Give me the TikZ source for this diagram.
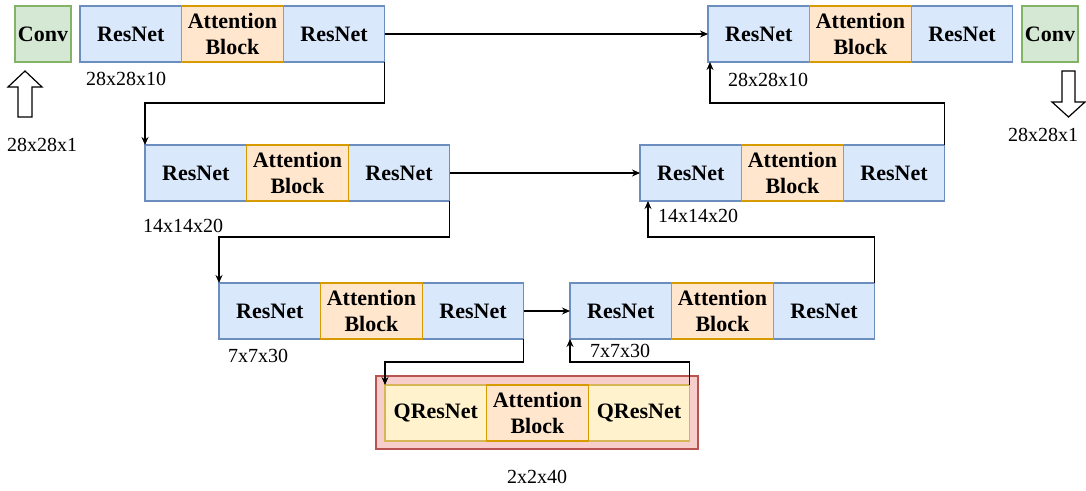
\documentclass[tikz,border=0pt]{standalone}
\usepackage{fontspec}
\setmainfont{Liberation Serif}
\usetikzlibrary{positioning,arrows.meta}
\definecolor{resfill}{HTML}{DAE8FC}
\definecolor{resline}{HTML}{6C8EBF}
\definecolor{attfill}{HTML}{FFE6CC}
\definecolor{attline}{HTML}{D79B00}
\definecolor{convfill}{HTML}{D5E8D4}
\definecolor{convline}{HTML}{82B366}
\definecolor{qfill}{HTML}{FFF2CC}
\definecolor{qline}{HTML}{D6B656}
\definecolor{corefill}{HTML}{F8CECC}
\definecolor{coreline}{HTML}{B85450}
\tikzset{
	cell/.style={rectangle, minimum width=50.8pt, minimum height=28pt, inner sep=0pt, outer sep=0pt,
		line width=0.6pt, font=\fontsize{11}{13}\selectfont\bfseries, align=center},
	res/.style={cell, fill=resfill, draw=resline},
	att/.style={cell, fill=attfill, draw=attline},
	qres/.style={cell, fill=qfill, draw=qline},
	conv/.style={cell, minimum width=28pt, fill=convfill, draw=convline},
	corebox/.style={rectangle, minimum width=161pt, minimum height=36.5pt, inner sep=0pt,
		fill=corefill, draw=coreline, line width=0.6pt},
	dim/.style={font=\fontsize{10}{12}\selectfont, inner sep=1pt},
	link/.style={-{Stealth[length=4pt,width=3.5pt]}, line width=0.6pt},
	hollow/.style={draw=black, fill=white, line width=0.6pt}
}

\begin{document}
\begin{tikzpicture}[x=0.5pt,y=-0.5pt]
	\useasboundingbox (0,0) rectangle (1086,491);
% input side
	\node[conv, anchor=north west] (convin) at (15,6) {Conv};
	\draw[hollow] (25,71) -- (42,87) -- (32,87) -- (32,117) -- (18,117) -- (18,87) -- (8,87) -- cycle;
		\node[dim] (dimin) at (42,145) {28x28x1};
% encoder
	\node[res, anchor=north west] (enc1a) at (80,6) {ResNet};
	\node[res, right=50.8pt of enc1a] (enc1c) {ResNet};
	\node[att, right=0pt of enc1a] (enc1b) {Attention\\Block};
		\node[dim] (dimenc1) at (126,79) {28x28x10};
	\node[res, anchor=north west] (enc2a) at (145,145) {ResNet};
	\node[res, right=50.8pt of enc2a] (enc2c) {ResNet};
	\node[att, right=0pt of enc2a] (enc2b) {Attention\\Block};
		\node[dim] (dimenc2) at (183,226) {14x14x20};
	\node[res, anchor=north west] (enc3a) at (219,283) {ResNet};
	\node[res, right=50.8pt of enc3a] (enc3c) {ResNet};
	\node[att, right=0pt of enc3a] (enc3b) {Attention\\Block};
		\node[dim] (dimenc3) at (258,356) {7x7x30};
% bottleneck
	\node[corebox] (core) at (537,412.5) {};
	\node[qres, anchor=north west] (mida) at (385,385) {QResNet};
	\node[qres, right=50.8pt of mida] (midc) {QResNet};
	\node[att, right=0pt of mida] (midb) {Attention\\Block};
		\node[dim] (dimmid) at (537,477) {2x2x40};
% decoder
	\node[res, anchor=north west] (dec3a) at (570,283) {ResNet};
	\node[res, right=50.8pt of dec3a] (dec3c) {ResNet};
	\node[att, right=0pt of dec3a] (dec3b) {Attention\\Block};
		\node[dim] (dimdec3) at (620,351) {7x7x30};
	\node[res, anchor=north west] (dec2a) at (640,145) {ResNet};
	\node[res, right=50.8pt of dec2a] (dec2c) {ResNet};
	\node[att, right=0pt of dec2a] (dec2b) {Attention\\Block};
		\node[dim] (dimdec2) at (698,216) {14x14x20};
	\node[res, anchor=north west] (dec1a) at (708,6) {ResNet};
	\node[res, right=50.8pt of dec1a] (dec1c) {ResNet};
	\node[att, right=0pt of dec1a] (dec1b) {Attention\\Block};
		\node[dim] (dimdec1) at (768,80) {28x28x10};
% output side
	\node[conv, anchor=north west] (convout) at (1022,6) {Conv};
	\draw[hollow] (1062,71) -- (1075,71) -- (1075,102) -- (1085,102) -- (1068.5,117) -- (1052,102) -- (1062,102) -- cycle;
		\node[dim] (dimout) at (1043,135) {28x28x1};
% skips
	\draw[link] (enc1c.east) -- (dec1a.west);
	\draw[link] (enc2c.east) -- (dec2a.west);
	\draw[link] (enc3c.east) -- (dec3a.west);
% down
	\draw[link] (enc1c.south east) -- ++(0,41) -| (enc2a.north west);
	\draw[link] (enc2c.south east) -- ++(0,36) -| (enc3a.north west);
	\draw[link] (enc3c.south east) -- ++(0,23) -| (mida.north west);
% up
	\draw[link] (midc.north east) -- ++(0,-23) -| (dec3a.south west);
	\draw[link] (dec3c.north east) -- ++(0,-46) -| ([xshift=4pt]dec2a.south west);
	\draw[link] (dec2c.north east) -- ++(0,-42) -| ([xshift=1pt]dec1a.south west);
\end{tikzpicture}
\end{document}
